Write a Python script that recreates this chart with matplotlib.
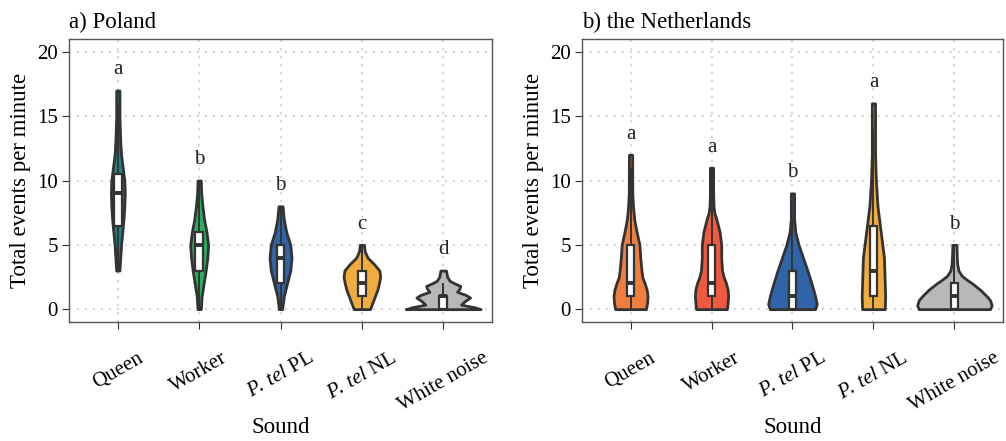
import numpy as np
import matplotlib
matplotlib.use("Agg")
import matplotlib.pyplot as plt

plt.rcParams['font.family'] = ['Liberation Serif', 'DejaVu Serif']
plt.rcParams['mathtext.fontset'] = 'custom'
plt.rcParams['mathtext.rm'] = 'Liberation Serif'
plt.rcParams['mathtext.it'] = 'Liberation Serif:italic'

# ------------------------------------------------------------
# Data
# ------------------------------------------------------------
sounds = ['Queen', 'Worker', r'$\mathit{P\!.\;tel}$ PL', r'$\mathit{P\!.\;tel}$ NL', 'White noise']

# violin outlines: y levels and half widths (category units)
pl_prof_y = [
    [3, 4, 5, 6, 7, 8, 9, 10, 11, 12, 13, 14, 15, 16, 17],
    [0, 1, 2, 3, 4, 5, 6, 7, 8, 9, 10],
    [0, 1, 2, 3, 4, 5, 6, 7, 8],
    [0, 0.5, 1, 1.5, 2, 2.5, 3, 3.5, 4, 4.5, 5],
    [0, 0.15, 0.35, 0.6, 0.9, 1.1, 1.35, 1.6, 1.8, 2.0, 2.2, 2.5, 2.8, 3.0],
]
pl_prof_w = [
    [0.02, 0.03, 0.04, 0.055, 0.07, 0.08, 0.085, 0.08, 0.06, 0.04, 0.03, 0.025, 0.02, 0.02, 0.02],
    [0.02, 0.03, 0.055, 0.08, 0.1, 0.11, 0.09, 0.06, 0.04, 0.025, 0.02],
    [0.02, 0.04, 0.08, 0.12, 0.135, 0.12, 0.07, 0.04, 0.025],
    [0.1, 0.13, 0.16, 0.19, 0.21, 0.225, 0.215, 0.15, 0.07, 0.035, 0.025],
    [0.46, 0.38, 0.22, 0.26, 0.33, 0.28, 0.17, 0.2, 0.21, 0.14, 0.08, 0.05, 0.04, 0.035],
]
nl_prof_y = [
    [0, 0.5, 1, 1.5, 2, 2.5, 3, 4, 5, 6, 7, 8, 9, 12],
    [0, 0.5, 1, 1.5, 2, 2.5, 3, 4, 5, 6, 7, 7.5, 8, 9, 11],
    [0, 0.4, 1, 2, 3, 4, 5, 6, 7, 9],
    [0, 1, 2, 3, 4, 5, 6, 7, 8, 9, 10, 11, 12, 16],
    [0, 0.3, 0.7, 1, 1.5, 2, 2.3, 2.6, 3, 3.5, 4, 5],
]
nl_prof_w = [
    [0.19, 0.205, 0.21, 0.2, 0.175, 0.145, 0.135, 0.12, 0.11, 0.075, 0.045, 0.03, 0.022, 0.02],
    [0.19, 0.2, 0.205, 0.2, 0.18, 0.15, 0.13, 0.12, 0.12, 0.1, 0.06, 0.035, 0.025, 0.02, 0.02],
    [0.28, 0.3, 0.28, 0.235, 0.185, 0.13, 0.075, 0.035, 0.02, 0.02],
    [0.14, 0.145, 0.14, 0.135, 0.13, 0.11, 0.09, 0.07, 0.05, 0.04, 0.03, 0.025, 0.02, 0.02],
    [0.44, 0.46, 0.44, 0.4, 0.32, 0.22, 0.15, 0.09, 0.05, 0.035, 0.03, 0.025],
]

# box plots: q1, median, q3, whisker ends
pl_q1 = [6.5, 3, 2, 1, 0]
pl_med = [9, 5, 4, 2, 1]
pl_q3 = [10.5, 6, 5, 3, 1]
pl_wlo = [3, 0, 0, 0, 0]
pl_whi = [16, 10, 8, 5, 2]

nl_q1 = [1, 1, 0, 1, 0]
nl_med = [2, 2, 1, 3, 1]
nl_q3 = [5, 5, 3, 6.5, 2]
nl_wlo = [0, 0, 0, 0, 0]
nl_whi = [11, 11, 7, 14, 5]

# significance letters
pl_letters = ['a', 'b', 'b', 'c', 'd']
nl_letters = ['a', 'a', 'b', 'a', 'b']

pl_colors = ['#1d8585', '#2aad5c', '#2f64a9', '#f0ad3d', '#b8b8b8']
nl_colors = ['#f07e3e', '#f05a3f', '#2f64a9', '#f0ad3d', '#b8b8b8']

EDGE = '#333333'
FS = 15
LFS = 16.5


def draw_panel(ax, prof_y, prof_w, q1, med, q3, wlo, whi, letters, colors, title):
    for i in range(len(sounds)):
        y = np.array(prof_y[i])
        w = np.array(prof_w[i])
        ax.fill_betweenx(y, i - w, i + w, facecolor=colors[i], edgecolor=EDGE,
                         linewidth=2.0, joinstyle='round', zorder=3)
        # whiskers
        ax.vlines(i, wlo[i], q1[i], color=EDGE, lw=1.4, zorder=4)
        ax.vlines(i, q3[i], whi[i], color=EDGE, lw=1.4, zorder=4)
        # box
        ax.bar(i, q3[i] - q1[i], bottom=q1[i], width=0.095, color='white',
               edgecolor=EDGE, linewidth=1.6, zorder=5)
        ax.hlines(med[i], i - 0.047, i + 0.047, color=EDGE, lw=2.8, zorder=6)
        # letter
        ax.text(i, max(prof_y[i]) + 1.6, letters[i], ha='center', va='center',
                fontsize=FS, color='#222222', zorder=6)

    ax.set_xlim(-0.6, 4.6)
    ax.set_ylim(-1, 21)
    ax.set_yticks([0, 5, 10, 15, 20])
    ax.set_xticks(range(len(sounds)))
    ax.set_xticklabels(sounds, rotation=30, ha='center', va='top')
    ax.tick_params(axis='x', pad=14, labelsize=FS, length=5, color=EDGE)
    ax.tick_params(axis='y', labelsize=FS, length=5, color=EDGE, pad=3)
    ax.grid(True, color='#c4c4c4', linestyle=(0, (1, 3.8)), linewidth=1.2, zorder=0)
    ax.set_axisbelow(True)
    for s in ax.spines.values():
        s.set_color('#555555')
        s.set_linewidth(1.0)
    ax.set_xlabel('Sound', fontsize=LFS, labelpad=1)
    ax.set_ylabel('Total events per minute', fontsize=LFS, labelpad=4)
    ax.set_title(title, loc='left', fontsize=LFS, pad=8, x=0.0)


fig = plt.figure(figsize=(10.06, 4.41), dpi=100)
ax1 = fig.add_axes([0.0686, 0.2698, 0.4205, 0.6417])
ax2 = fig.add_axes([0.5785, 0.2698, 0.4185, 0.6417])

draw_panel(ax1, pl_prof_y, pl_prof_w, pl_q1, pl_med, pl_q3, pl_wlo, pl_whi,
           pl_letters, pl_colors, 'a) Poland')
draw_panel(ax2, nl_prof_y, nl_prof_w, nl_q1, nl_med, nl_q3, nl_wlo, nl_whi,
           nl_letters, nl_colors, 'b) the Netherlands')

fig.savefig('out.png', dpi=100)
